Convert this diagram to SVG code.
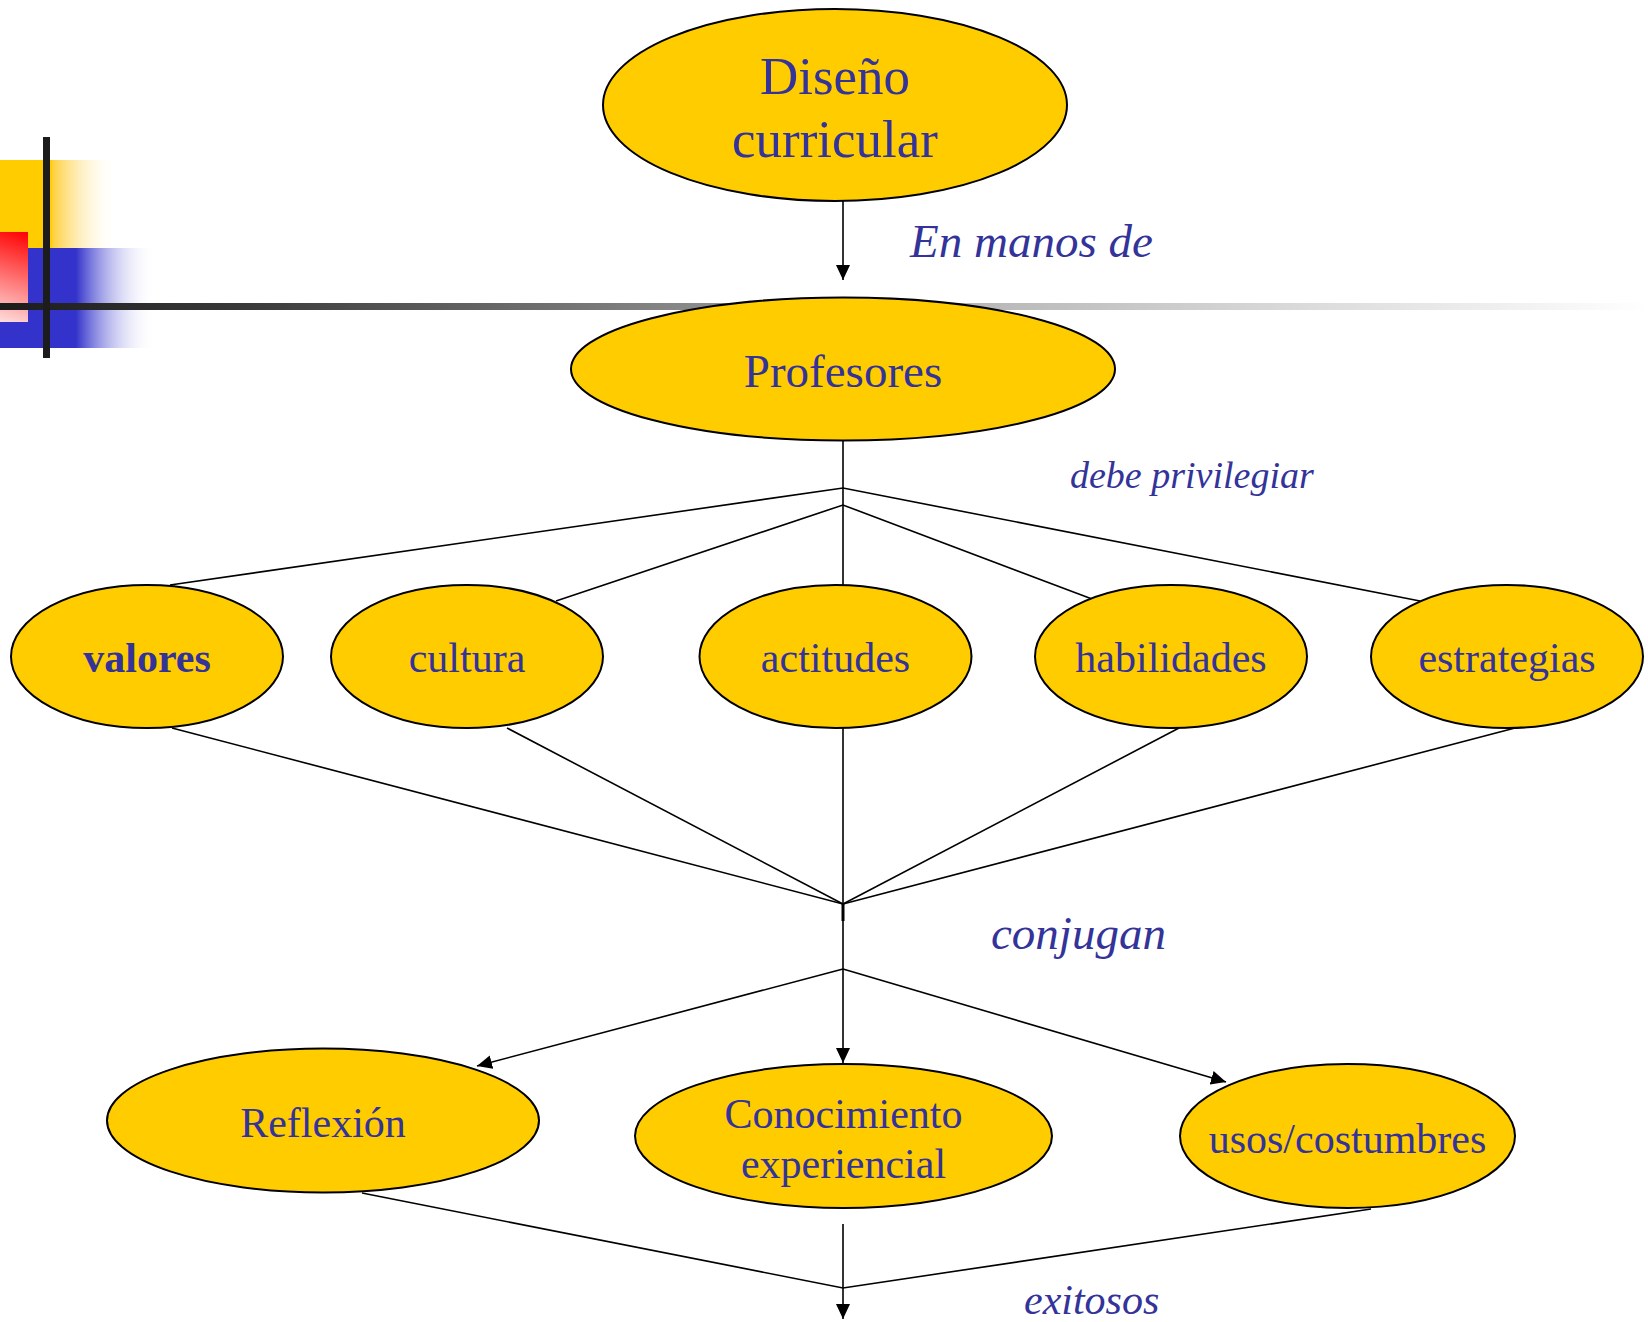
<svg xmlns="http://www.w3.org/2000/svg" width="1648" height="1322" viewBox="0 0 1648 1322">
<style>
.n{fill:#FFCC00;stroke:#000;stroke-width:2}
.t{font-family:"Liberation Serif","Times New Roman",serif;fill:#333399;text-anchor:middle}
.c{fill:none;stroke:#000;stroke-width:1.6}
.l{font-family:"Liberation Serif","Times New Roman",serif;fill:#333399;font-style:italic}
</style>
<defs>
<marker id="ah" markerUnits="userSpaceOnUse" markerWidth="16" markerHeight="16" viewBox="0 0 16 16" refX="15" refY="8" orient="auto">
<path d="M0,1 L15,8 L0,15 Z" fill="#000"/>
</marker>
<linearGradient id="gy" x1="0" y1="0" x2="118" y2="0" gradientUnits="userSpaceOnUse">
<stop offset="0" stop-color="#FFCC00"/><stop offset="0.43" stop-color="#FFCC00"/><stop offset="0.45" stop-color="#FFD040"/><stop offset="1" stop-color="#FFFFFF" stop-opacity="0"/>
</linearGradient>
<linearGradient id="gb" x1="0" y1="0" x2="155" y2="0" gradientUnits="userSpaceOnUse">
<stop offset="0" stop-color="#3333CC"/><stop offset="0.49" stop-color="#3333CC"/><stop offset="1" stop-color="#FFFFFF" stop-opacity="0"/>
</linearGradient>
<linearGradient id="gr" x1="28" y1="232" x2="0" y2="322" gradientUnits="userSpaceOnUse">
<stop offset="0" stop-color="#FF0000"/><stop offset="1" stop-color="#FFDDDD"/>
</linearGradient>
<linearGradient id="gh" x1="0" y1="0" x2="1648" y2="0" gradientUnits="userSpaceOnUse">
<stop offset="0" stop-color="#1C1C1C"/><stop offset="0.15" stop-color="#3A3A3A"/><stop offset="0.55" stop-color="#B0B0B0"/><stop offset="1" stop-color="#FFFFFF"/>
</linearGradient>
</defs>
<g id="decor">
<rect x="0" y="160" width="118" height="88" fill="url(#gy)"/>
<rect x="0" y="248" width="155" height="100" fill="url(#gb)"/>
<rect x="0" y="232" width="28" height="90" fill="url(#gr)"/>
<rect x="0" y="303" width="1648" height="7" fill="url(#gh)"/>
<rect x="43" y="137" width="7" height="221" fill="#1C1C1C"/>
</g>
<g id="connectors">
<line class="c" x1="843" y1="201" x2="843" y2="280" marker-end="url(#ah)"/>
<line class="c" x1="843" y1="440" x2="843" y2="585"/>
<polyline class="c" points="170,585 843,488 1420,601"/>
<polyline class="c" points="556,601 843,505 1100,602"/>
<line class="c" x1="172" y1="728" x2="843" y2="904"/>
<line class="c" x1="507" y1="728" x2="843" y2="904"/>
<line class="c" x1="843" y1="728" x2="843" y2="904"/>
<line class="c" x1="1179" y1="728" x2="843" y2="904"/>
<line class="c" x1="1515" y1="728" x2="843" y2="904"/>
<line x1="843" y1="904" x2="843" y2="921" stroke="#000" stroke-width="3"/>
<line class="c" x1="843" y1="920" x2="843" y2="969"/>
<line class="c" x1="843" y1="969" x2="843" y2="1063" marker-end="url(#ah)"/>
<line class="c" x1="843" y1="969" x2="477" y2="1066" marker-end="url(#ah)"/>
<line class="c" x1="843" y1="969" x2="1226" y2="1082" marker-end="url(#ah)"/>
<polyline class="c" points="362,1193 843,1288 1371,1209"/>
<line class="c" x1="843" y1="1224" x2="843" y2="1319" marker-end="url(#ah)"/>
</g>
<g id="labels">
<text class="l" x="910" y="257" font-size="47">En manos de</text>
<text class="l" x="1070" y="488" font-size="38">debe privilegiar</text>
<text class="l" x="991" y="949" font-size="47">conjugan</text>
<text class="l" x="1024" y="1314" font-size="42">exitosos</text>
</g>
<g id="n-diseno">
<ellipse class="n" cx="835" cy="105" rx="232" ry="96"/>
<text class="t" x="835" y="94" font-size="53">Diseño</text>
<text class="t" x="835" y="157" font-size="53">curricular</text>
</g>
<g id="n-profesores">
<ellipse class="n" cx="843" cy="369" rx="272" ry="71.5"/>
<text class="t" x="843" y="387" font-size="47">Profesores</text>
</g>
<g id="n-valores">
<ellipse class="n" cx="147" cy="656.5" rx="136" ry="71.5"/>
<text class="t" x="147" y="672" font-size="42" font-weight="bold">valores</text>
</g>
<g id="n-cultura">
<ellipse class="n" cx="467" cy="656.5" rx="136" ry="71.5"/>
<text class="t" x="467" y="672" font-size="42">cultura</text>
</g>
<g id="n-actitudes">
<ellipse class="n" cx="835.5" cy="656.5" rx="136" ry="71.5"/>
<text class="t" x="835.5" y="672" font-size="42">actitudes</text>
</g>
<g id="n-habilidades">
<ellipse class="n" cx="1171" cy="656.5" rx="136" ry="71.5"/>
<text class="t" x="1171" y="672" font-size="42">habilidades</text>
</g>
<g id="n-estrategias">
<ellipse class="n" cx="1507" cy="656.5" rx="136" ry="71.5"/>
<text class="t" x="1507" y="672" font-size="42">estrategias</text>
</g>
<g id="n-reflexion">
<ellipse class="n" cx="323" cy="1120.5" rx="216" ry="72"/>
<text class="t" x="323" y="1137" font-size="42">Reflexión</text>
</g>
<g id="n-conocimiento">
<ellipse class="n" cx="843.5" cy="1136" rx="208.5" ry="72"/>
<text class="t" x="843.5" y="1128" font-size="42">Conocimiento</text>
<text class="t" x="843.5" y="1178" font-size="42">experiencial</text>
</g>
<g id="n-usos">
<ellipse class="n" cx="1347.5" cy="1136" rx="167.5" ry="72"/>
<text class="t" x="1347.5" y="1153" font-size="42">usos/costumbres</text>
</g>
</svg>
